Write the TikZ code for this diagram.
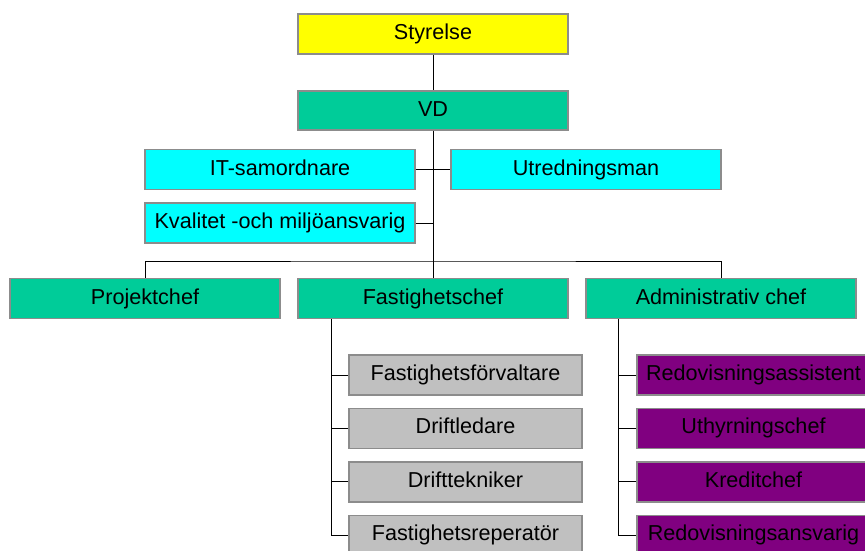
\documentclass[tikz,border=0pt]{standalone}
\usepackage{fontspec}
\setmainfont{Liberation Sans}
\usepackage{xcolor}
\usepackage{tikz}
\usetikzlibrary{positioning}

\definecolor{rimgray}{HTML}{8C8C8C}
\definecolor{boardyellow}{HTML}{FFFF00}
\definecolor{chiefgreen}{HTML}{00CC99}
\definecolor{staffcyan}{HTML}{00FFFF}
\definecolor{techgray}{HTML}{C0C0C0}
\definecolor{adminpurple}{HTML}{800080}

\begin{document}
\begin{tikzpicture}[
  x=1pt, y=-1pt,
  node distance=12pt,
  line width=1pt,
  every node/.style={font=\fontsize{21.6}{26}\selectfont},
  box/.style={draw=rimgray, line width=1.4pt, minimum height=40pt, inner sep=0pt,
    text height=15.5pt, text depth=4.5pt},
  wide/.style={box, minimum width=270pt},
  narrow/.style={box, minimum width=233pt}
]
\useasboundingbox (0,0) rectangle (865,551);

% top of the chart
\node (sty) [wide, fill=boardyellow] at (433,34) {Styrelse};
\node (vd) [wide, fill=chiefgreen, minimum height=39pt] at (433,110.5) {VD};

% staff
\node (it) [wide, fill=staffcyan] at (280,169.5) {IT-samordnare};
\node (utr) [wide, fill=staffcyan] at (586,169.5) {Utredningsman};
\node (kval) [wide, fill=staffcyan] at (280,223) {Kvalitet -och miljöansvarig};

% chiefs
\node (proj) [wide, fill=chiefgreen] at (145,298.5) {Projektchef};
\node (fast) [wide, fill=chiefgreen] at (433,298.5) {Fastighetschef};
\node (adm) [wide, fill=chiefgreen] at (721,298.5) {Administrativ chef};

% under Fastighetschef
\node (f1) [narrow, fill=techgray] at (465.5,375) {Fastighetsförvaltare};
\node (f2) [narrow, fill=techgray, below=of f1] {Driftledare};
\node (f3) [narrow, fill=techgray, below=of f2] {Drifttekniker};
\node (f4) [narrow, fill=techgray, below=of f3] {Fastighetsreperatör};

% under Administrativ chef
\node (a1) [narrow, fill=adminpurple] at (753.5,375) {Redovisningsassistent};
\node (a2) [narrow, fill=adminpurple, below=of a1] {Uthyrningschef};
\node (a3) [narrow, fill=adminpurple, below=of a2] {Kreditchef};
\node (a4) [narrow, fill=adminpurple, below=of a3] {Redovisningsansvarig};

\coordinate (bus) at (433,261);
\coordinate (ftrunk) at ([xshift=34pt]fast.south west);
\coordinate (atrunk) at ([xshift=33pt]adm.south west);

\draw (sty) -- (vd);
\draw (vd) -- (bus);
\draw (it) -- (utr);
\draw (kval.east) -- (kval.east -| vd.south);
\draw (proj.north) |- (bus) -| (adm.north);
\draw (bus) -- (fast);

\draw (ftrunk) |- (f4.west);
\foreach \n in {f1,f2,f3}
  \draw (\n.west) -- (\n.west -| ftrunk);
\draw (atrunk) |- (a4.west);
\foreach \n in {a1,a2,a3}
  \draw (\n.west) -- (\n.west -| atrunk);
\end{tikzpicture}
\end{document}
